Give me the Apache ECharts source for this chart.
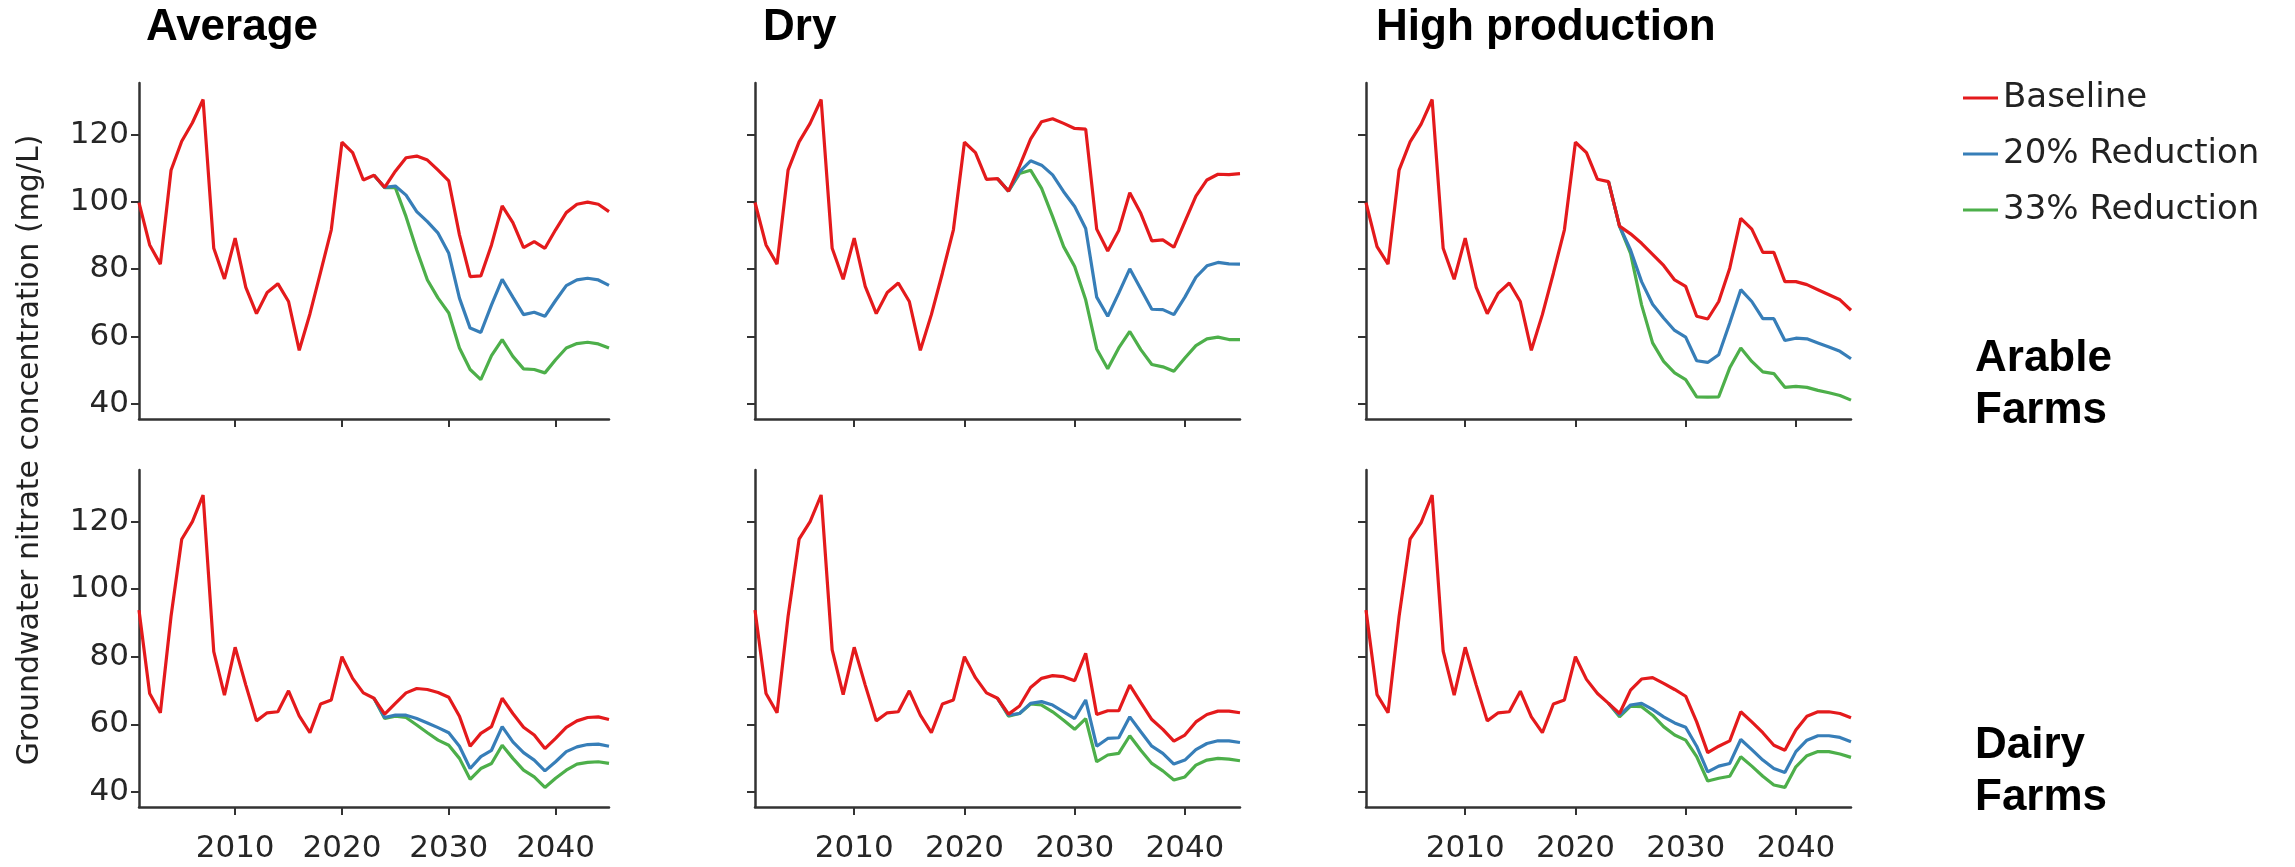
<!DOCTYPE html>
<html>
<head>
<meta charset="utf-8">
<script src="https://cdn.jsdelivr.net/npm/echarts@6.0.0/dist/echarts.min.js"></script>
<style>
html,body{margin:0;padding:0;background:#fff;}
#chart{width:2295px;height:867px;}
</style>
</head>
<body>
<div id="chart"></div>
<script>
// ---- data ----
const years = [2001,2002,2003,2004,2005,2006,2007,2008,2009,2010,2011,2012,2013,2014,2015,2016,2017,2018,2019,2020,2021,2022,2023,2024,2025,2026,2027,2028,2029,2030,2031,2032,2033,2034,2035,2036,2037,2038,2039,2040,2041,2042,2043,2044,2045];
const scenarioYears = [2023,2024,2025,2026,2027,2028,2029,2030,2031,2032,2033,2034,2035,2036,2037,2038,2039,2040,2041,2042,2043,2044,2045];
const xTickValues = [2010, 2020, 2030, 2040];
const yTickValues = [40, 60, 80, 100, 120];
const seriesNames = ['Baseline', '20% Reduction', '33% Reduction'];
const climateTitles = ['Average', 'Dry', 'High production'];
const farmTitles = ['Arable\nFarms', 'Dairy\nFarms'];
const yAxisTitle = 'Groundwater nitrate concentration (mg/L)';

const arableAvgBase = [99.8,87.2,81.5,109.4,118.0,123.5,130.4,86.2,77.1,89.2, 74.6,66.8,73.1,75.7,70.4,55.9,66.7,79.1,91.7,117.7, 114.6,106.5,107.9,104.3,109.1,113.1,113.6,112.4,109.4,106.2, 90.2,77.8,78.0,87.2,98.8,93.8,86.4,88.2,86.2,91.7, 96.8,99.3,99.9,99.3,97.1];
const arableAvg20 = [107.9,104.3,104.7,102.0,97.1,94.1,90.7,84.7, 71.4,62.5,61.2,69.4,77.0,71.7,66.5,67.2,66.0,70.7, 75.1,76.8,77.3,76.8,75.2];
const arableAvg33 = [107.9,104.2,104.2,95.6,85.7,76.8,71.4,67.0, 56.6,50.2,47.2,54.3,59.1,54.1,50.4,50.2,49.2,53.1, 56.6,57.9,58.3,57.8,56.6];

const arableDryBase = [99.8,87.2,81.5,109.4,117.8,123.3,130.4,86.2,77.0,89.2, 74.9,66.8,73.1,75.9,70.4,55.9,66.5,78.8,91.7,117.7, 114.6,106.7,106.9,103.2,110.6,118.6,123.8,124.7,123.3,121.8, 121.6,91.9,85.4,91.5,102.7,96.6,88.4,88.7,86.5,94.1, 101.7,106.5,108.2,108.1,108.4];
const arableDry20 = [106.9,103.2,108.9,112.2,110.9,108.0,103.0,98.6, 92.1,71.7,66.0,72.9,80.1,74.1,68.1,68.0,66.5,71.7, 77.6,81.0,82.0,81.6,81.5];
const arableDry33 = [106.9,103.2,108.4,109.4,104.0,95.6,86.7,80.8, 70.9,56.3,50.4,56.6,61.5,56.1,51.7,51.0,49.7,53.6, 57.3,59.3,59.8,59.1,59.1];

const arableHPBase = [99.8,86.7,81.5,109.4,117.8,123.1,130.4,86.2,77.0,89.2, 74.6,66.8,72.9,75.9,70.4,55.9,66.5,78.8,91.7,117.7, 114.6,106.7,106.0,92.8,90.5,87.7,84.4,81.1,76.8,74.9, 66.0,65.2,70.4,80.3,95.1,91.9,85.0,85.0,76.3,76.3, 75.4,73.9,72.4,70.9,67.8];
const arableHP20 = [106.0,92.8,85.7,76.3,69.6,65.5,61.8,59.8, 52.8,52.3,54.6,64.0,73.9,70.4,65.3,65.3,58.8,59.5, 59.3,58.1,56.9,55.6,53.4];
const arableHP33 = [106.0,92.8,84.7,69.4,58.1,52.6,49.2,47.2, 42.1,42.0,42.1,50.7,56.6,52.6,49.5,49.0,44.9,45.2, 44.9,44.0,43.3,42.5,41.1];

const dairyAvgBase = [93.8,69.1,63.4,92.0,114.8,120.0,127.9,81.5,68.6,82.8, 71.6,61.0,63.4,63.7,69.9,62.5,57.5,66.0,67.2,80.0, 73.6,69.3,67.7,63.0,66.2,69.3,70.6,70.3,69.4,68.0, 62.4,53.5,57.3,59.3,67.7,63.2,59.1,56.8,52.8,55.8, 59.1,61.0,62.0,62.2,61.4];
const dairyAvg20 = [67.7,62.0,62.7,62.7,61.7,60.4,59.0,57.5, 53.5,46.9,50.4,52.3,59.3,54.8,51.6,49.4,46.2,48.9, 51.9,53.3,54.0,54.1,53.5];
const dairyAvg33 = [67.7,61.7,62.4,62.0,59.8,57.5,55.3,53.8, 49.9,43.7,46.9,48.4,53.8,49.9,46.4,44.4,41.3,44.0, 46.4,48.2,48.7,48.9,48.4];

const dairyDryBase = [93.8,69.1,63.4,91.9,114.8,120.0,127.9,82.0,68.8,82.8, 71.6,61.0,63.4,63.7,69.9,62.7,57.5,66.0,67.2,80.0, 73.8,69.3,67.7,63.0,65.4,70.9,73.6,74.4,74.1,72.9, 81.0,62.9,64.0,64.0,71.6,66.4,61.4,58.5,55.0,56.8, 60.7,62.9,63.9,63.9,63.4];
const dairyDry20 = [67.7,62.7,63.2,66.2,66.7,65.7,63.7,61.7, 67.2,53.5,55.8,56.0,62.2,57.8,53.5,51.4,48.2,49.4, 52.5,54.3,55.1,55.1,54.6];
const dairyDry33 = [67.7,62.4,63.2,66.0,65.7,63.7,61.2,58.5, 61.7,48.9,50.9,51.4,56.6,52.3,48.4,46.2,43.5,44.4, 47.9,49.4,49.9,49.7,49.2];

const dairyHPBase = [93.8,68.8,63.4,91.9,114.8,119.7,127.9,81.7,68.6,82.8, 71.6,61.0,63.4,63.7,69.8,62.2,57.5,66.0,67.2,80.0, 73.3,69.1,66.2,63.2,70.1,73.4,73.8,72.1,70.3,68.3, 60.7,51.6,53.5,55.1,63.7,60.7,57.5,53.8,52.3,58.3, 62.4,63.7,63.7,63.2,61.9];
const dairyHP20 = [66.2,62.7,65.7,66.2,64.4,62.2,60.4,59.1, 53.5,45.9,47.6,48.4,55.5,52.5,49.4,46.9,45.7,51.9, 55.3,56.6,56.6,56.1,54.8];
const dairyHP33 = [66.2,62.2,65.4,65.2,62.7,59.3,56.8,55.3, 50.4,43.2,44.0,44.6,50.4,47.6,44.6,42.0,41.3,47.4, 50.7,51.9,51.9,51.2,50.2];

// panels in reading order (row 0: arable, row 1: dairy)
const panelData = [
  [arableAvgBase, arableAvg20, arableAvg33],
  [arableDryBase, arableDry20, arableDry33],
  [arableHPBase, arableHP20, arableHP33],
  [dairyAvgBase, dairyAvg20, dairyAvg33],
  [dairyDryBase, dairyDry20, dairyDry33],
  [dairyHPBase, dairyHP20, dairyHP33]
];

// ---- layout / style ----
const colors = ['#E41A1C', '#377EB8', '#4DAF4A'];
const colLeft = [139, 755, 1366];
const colWidth = [470, 485, 485];
const rowTop = [83, 470];
const rowHeight = [336, 337];
const axisColor = '#333333';
const tickFont = 'DejaVu Sans';
const textColor = '#262626';

function pairs(xs, vs) { return vs.map((v, i) => [xs[i], v]); }

const grids = [], xAxes = [], yAxes = [], series = [];
for (let p = 0; p < 6; p++) {
  const row = Math.floor(p / 3), col = p % 3;
  grids.push({left: colLeft[col], top: rowTop[row], width: colWidth[col], height: rowHeight[row], containLabel: false});
  xAxes.push({
    type: 'value', gridIndex: p, min: 2001, max: 2045,
    axisLine: {show: true, onZero: false, lineStyle: {color: axisColor, width: 2.5}},
    axisTick: {show: true, customValues: xTickValues, length: 8, lineStyle: {color: axisColor, width: 2}},
    axisLabel: {show: row === 1, customValues: xTickValues, fontSize: 31, fontFamily: tickFont, color: textColor, margin: 26,
                formatter: v => String(v)},
    splitLine: {show: false}
  });
  yAxes.push({
    type: 'value', gridIndex: p, min: 35.5, max: 135.3,
    axisLine: {show: true, lineStyle: {color: axisColor, width: 2.5}},
    axisTick: {show: true, customValues: yTickValues, length: 8, lineStyle: {color: axisColor, width: 2}},
    axisLabel: {show: col === 0, customValues: yTickValues, fontSize: 31, fontFamily: tickFont, color: textColor, margin: 10,
                formatter: v => String(v)},
    splitLine: {show: false}
  });
  const d = panelData[p];
  const order = [2, 1, 0];
  order.forEach(k => {
    series.push({
      type: 'line', name: seriesNames[k], xAxisIndex: p, yAxisIndex: p,
      data: k === 0 ? pairs(years, d[0]) : pairs(scenarioYears, d[k]),
      showSymbol: false, symbol: 'none', color: colors[k],
      lineStyle: {color: colors[k], width: 3.2},
      itemStyle: {color: colors[k]},
      z: 3 - k
    });
  });
}

const titleStyle = {fontSize: 44, fontWeight: 'bold', fontFamily: 'Liberation Sans', color: '#000', lineHeight: 44};
const titles = [
  {text: climateTitles[0], left: 146, top: 6, padding: 0, textStyle: titleStyle},
  {text: climateTitles[1], left: 763, top: 6, padding: 0, textStyle: titleStyle},
  {text: climateTitles[2], left: 1376, top: 6, padding: 0, textStyle: titleStyle},
  {text: farmTitles[0], left: 1975, top: 333, padding: 0, textStyle: Object.assign({}, titleStyle, {lineHeight: 52})},
  {text: farmTitles[1], left: 1975, top: 720, padding: 0, textStyle: Object.assign({}, titleStyle, {lineHeight: 52})}
];

const chart = echarts.init(document.getElementById('chart'), null, {renderer: 'canvas'});
chart.setOption({
  animation: false,
  backgroundColor: '#ffffff',
  title: titles,
  legend: {
    data: seriesNames, orient: 'vertical', left: 1963, top: 81, padding: 0,
    icon: 'rect', itemWidth: 35, itemHeight: 3, itemGap: 22,
    textStyle: {fontSize: 34, fontFamily: tickFont, color: '#222'}
  },
  grid: grids,
  xAxis: xAxes,
  yAxis: yAxes,
  series: series,
  graphic: [{
    type: 'text', x: 30, y: 450, rotation: Math.PI / 2,
    style: {text: yAxisTitle, font: '30px "DejaVu Sans"', fill: '#222', textAlign: 'center', textVerticalAlign: 'middle'}
  }]
});
</script>
</body>
</html>
